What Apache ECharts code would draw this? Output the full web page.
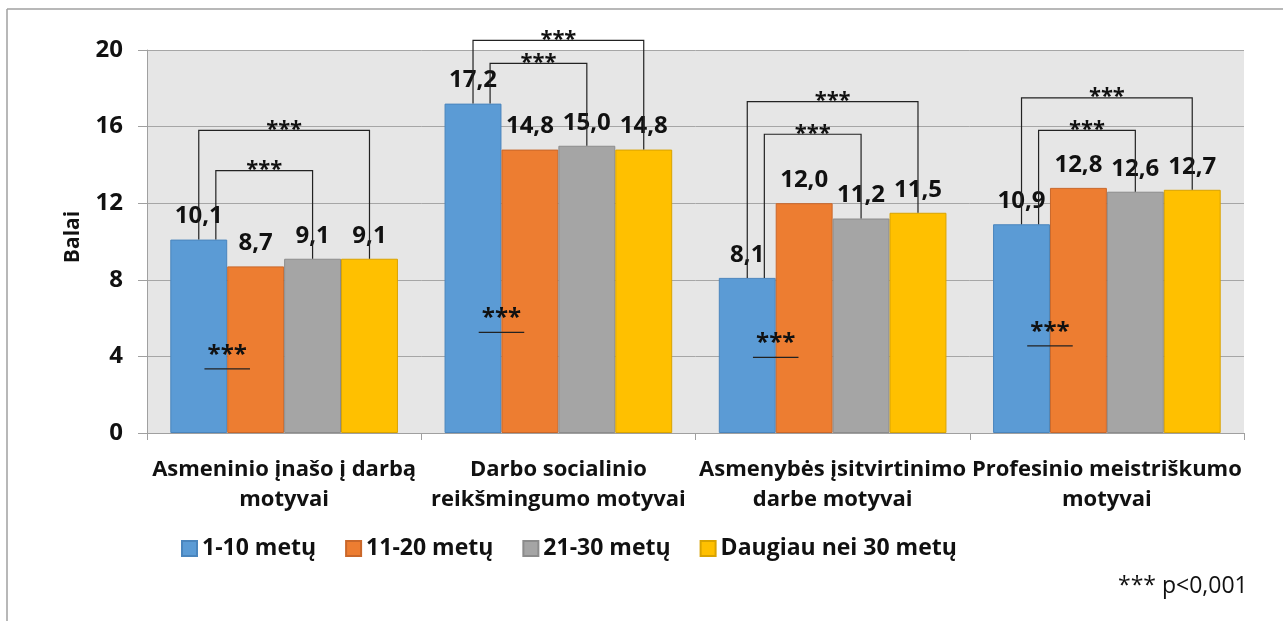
<!DOCTYPE html>
<html>
<head>
<meta charset="utf-8">
<script src="https://cdn.jsdelivr.net/npm/echarts@6/dist/echarts.min.js"></script>
<style>
html,body{margin:0;padding:0;background:#fff;}
#chart{width:1283px;height:621px;}
</style>
</head>
<body>
<div id="chart"></div>
<script>
const categories = [
  'Asmeninio įnašo į darbą\nmotyvai',
  'Darbo socialinio\nreikšmingumo motyvai',
  'Asmenybės įsitvirtinimo\ndarbe motyvai',
  'Profesinio meistriškumo\nmotyvai'
];
const seriesNames = ['1-10 metų', '11-20 metų', '21-30 metų', 'Daugiau nei 30 metų'];
const s1 = [10.1, 17.2, 8.1, 10.9];
const s2 = [8.7, 14.8, 12.0, 12.8];
const s3 = [9.1, 15.0, 11.2, 12.6];
const s4 = [9.1, 14.8, 11.5, 12.7];
const yTicks = [0, 4, 8, 12, 16, 20];
// significance bracket levels (in Balai units)
const outerBracket = [15.8, 20.5, 17.3, 17.5];
const innerBracket = [13.7, 19.3, 15.6, 15.8];
const belowMark = [3.35, 5.25, 3.95, 4.55];
const sigText = '***';
const footnote = '*** p<0,001';

const colors = ['#5b9bd5', '#ed7d31', '#a5a5a5', '#ffc000'];
const borders = ['#4a85bd', '#c9672a', '#8c8c8c', '#d9a300'];
const FONT = '"Open Sans"';
const values = [s1, s2, s3, s4];
const CAT_GAP = 0.17;

const chart = echarts.init(document.getElementById('chart'), null, {renderer: 'canvas'});

const barSeries = values.map((arr, k) => ({
  name: seriesNames[k],
  type: 'bar',
  data: arr,
  barGap: '0%',
  barCategoryGap: (CAT_GAP * 100) + '%',
  itemStyle: {color: colors[k], borderColor: borders[k], borderWidth: 1},
  label: {
    show: true,
    position: 'top',
    distance: 11,
    fontFamily: FONT,
    fontWeight: 'bold',
    fontSize: 24,
    color: '#111',
    formatter: p => p.value.toFixed(1).replace('.', ',')
  },
  z: 2
}));

const bracketData = categories.map((c, i) => [i, outerBracket[i], innerBracket[i], belowMark[i], s1[i], s3[i], s4[i]]);

const bracketSeries = {
  type: 'custom',
  silent: true,
  clip: false,
  z: 5,
  data: bracketData,
  encode: {x: 0, y: 1},
  renderItem: function (params, api) {
    const ci = api.value(0);
    const center = api.coord([ci, 0]);
    const band = api.size([1, 0])[0];
    const bw = band * (1 - CAT_GAP) / 4;
    const start = center[0] - 2 * bw;
    const barCenter = k => start + (k + 0.5) * bw;
    const y = v => api.coord([ci, v])[1];
    const lineStyle = {stroke: '#222', lineWidth: 1.2, fill: null};
    const children = [];
    function bracket(x1, x2, level, v1, v2) {
      const yl = y(level);
      children.push({
        type: 'polyline',
        shape: {points: [[x1, y(v1)], [x1, yl], [x2, yl], [x2, y(v2)]]},
        style: lineStyle
      });
      children.push({
        type: 'text',
        style: {
          x: (x1 + x2) / 2, y: yl + 10, text: sigText,
          fontFamily: FONT, fontWeight: 'bold', fontSize: 22, fill: '#111',
          align: 'center', verticalAlign: 'bottom'
        }
      });
    }
    // outer: group 1 vs group 4
    bracket(barCenter(0), barCenter(3), api.value(1), api.value(4), api.value(6));
    // inner: group 1 vs group 3
    bracket(barCenter(0) + 0.3 * bw, barCenter(2), api.value(2), api.value(4), api.value(5));
    // below mark
    const mx = start + bw;
    const my = y(api.value(3));
    children.push({
      type: 'line',
      shape: {x1: mx - 0.4 * bw, y1: my, x2: mx + 0.4 * bw, y2: my},
      style: {stroke: '#222', lineWidth: 1.2}
    });
    children.push({
      type: 'text',
      style: {
        x: mx, y: my - 2, text: sigText,
        fontFamily: FONT, fontWeight: 'bold', fontSize: 24, fill: '#111',
        align: 'center', verticalAlign: 'bottom'
      }
    });
    return {type: 'group', children: children};
  }
};

const option = {
  animation: false,
  backgroundColor: '#fff',
  textStyle: {fontFamily: FONT},
  grid: {
    left: 147, right: 39, top: 50, bottom: 188,
    show: true, backgroundColor: '#e6e6e6', borderWidth: 0
  },
  legend: {
    data: seriesNames,
    left: 176, top: 532,
    itemWidth: 15, itemHeight: 15, itemGap: 29,
    icon: 'rect',
    textStyle: {fontFamily: FONT, fontWeight: 'bold', fontSize: 23, color: '#111'}
  },
  xAxis: {
    type: 'category',
    data: categories,
    axisLine: {lineStyle: {color: '#a0a0a0', width: 1}},
    axisTick: {show: true, length: 7, lineStyle: {color: '#a0a0a0'}},
    axisLabel: {
      interval: 0, margin: 22, fontFamily: FONT, fontWeight: 'bold',
      fontSize: 22, lineHeight: 30, color: '#111', align: 'center'
    }
  },
  yAxis: {
    type: 'value',
    min: yTicks[0], max: yTicks[yTicks.length - 1], interval: 4,
    name: 'Balai', nameLocation: 'middle', nameGap: 63, nameRotate: 90,
    nameMoveOverlap: false,
    nameTextStyle: {fontFamily: FONT, fontWeight: 'bold', fontSize: 21, color: '#111', padding: [0, 0, 0, 9]},
    axisLine: {show: true, lineStyle: {color: '#a0a0a0', width: 1}},
    axisTick: {show: true, length: 9, lineStyle: {color: '#a0a0a0'}},
    splitLine: {lineStyle: {color: '#a6a6a6', width: 1}},
    axisLabel: {margin: 24, fontFamily: FONT, fontWeight: 'bold', fontSize: 24, color: '#111'}
  },
  graphic: [
    {type: 'line', shape: {x1: 7, y1: 9, x2: 1283, y2: 9}, style: {stroke: '#a0a0a0', lineWidth: 1.5}, silent: true},
    {type: 'line', shape: {x1: 7, y1: 9, x2: 7, y2: 621}, style: {stroke: '#a0a0a0', lineWidth: 1.5}, silent: true},
    {type: 'text', left: 1118, top: 575, style: {text: footnote, fontFamily: FONT, fontSize: 23, fill: '#111'}, silent: true}
  ],
  series: barSeries.concat([bracketSeries])
};

chart.setOption(option);
</script>
</body>
</html>
